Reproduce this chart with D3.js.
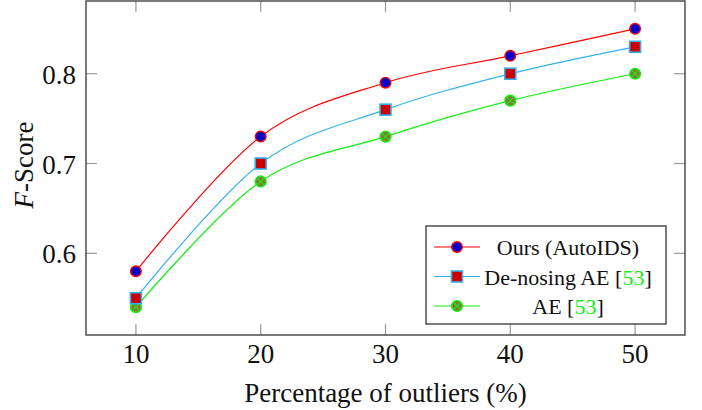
<!DOCTYPE html>
<html>
<head>
<meta charset="utf-8">
<script src="https://cdn.jsdelivr.net/npm/d3@7"></script>
<style>
  body { margin: 0; background: white; }
</style>
</head>
<body>
<div id="chart"></div>
<script>
// Data
const outliers = [10, 20, 30, 40, 50];
const oursScores = [0.58, 0.73, 0.79, 0.82, 0.85];
const denoisingScores = [0.55, 0.70, 0.76, 0.80, 0.83];
const aeScores = [0.54, 0.68, 0.73, 0.77, 0.80];
const yTicks = [0.6, 0.7, 0.8];
const seriesNames = ["Ours (AutoIDS)", "De-nosing AE ", "AE "];

let width = 702, height = 410;
let margin = { top: 1, bottom: 75, left: 86, right: 17 };
const serif = "Times New Roman, Liberation Serif, DejaVu Serif, serif";
const axisFont = 27, legendFont = 22;

let svg = d3.select("#chart")
    .append("svg")
    .attr("width", width)
    .attr("height", height)
    .attr("font-family", serif)
    .style("background", "white");

// pgfplots-style 10% enlarged limits
let xScale = d3.scaleLinear()
    .domain([6, 54])
    .range([margin.left, width - margin.right]);

let yScale = d3.scaleLinear()
    .domain([0.509, 0.881])
    .range([height - margin.bottom, margin.top]);

const x0 = margin.left, x1 = width - margin.right;
const y0 = height - margin.bottom, y1 = margin.top;
const tickLen = 11;

// Ticks (inside, mirrored on all sides)
let ticks = svg.append("g").attr("stroke", "#9a9a9a").attr("stroke-width", 1.2);
outliers.forEach(v => {
    ticks.append("line").attr("x1", xScale(v)).attr("x2", xScale(v)).attr("y1", y0).attr("y2", y0 - tickLen);
    ticks.append("line").attr("x1", xScale(v)).attr("x2", xScale(v)).attr("y1", y1).attr("y2", y1 + tickLen);
});
yTicks.forEach(v => {
    ticks.append("line").attr("x1", x0).attr("x2", x0 + tickLen).attr("y1", yScale(v)).attr("y2", yScale(v));
    ticks.append("line").attr("x1", x1).attr("x2", x1 - tickLen).attr("y1", yScale(v)).attr("y2", yScale(v));
});

// Tick labels
svg.append("g").selectAll("text")
    .data(outliers)
    .enter()
    .append("text")
    .attr("x", d => xScale(d))
    .attr("y", y0 + 28)
    .attr("text-anchor", "middle")
    .attr("font-size", axisFont)
    .attr("fill", "#111")
    .text(d => d);

svg.append("g").selectAll("text")
    .data(yTicks)
    .enter()
    .append("text")
    .attr("x", x0 - 10)
    .attr("y", d => yScale(d) + 10)
    .attr("text-anchor", "end")
    .attr("font-size", axisFont)
    .attr("fill", "#111")
    .text(d => d.toFixed(1));

// Axis labels
svg.append("text")
    .attr("x", (x0 + x1) / 2)
    .attr("y", 402)
    .attr("text-anchor", "middle")
    .attr("font-size", axisFont)
    .attr("fill", "#111")
    .text("Percentage of outliers (%)");

let yLabel = svg.append("text")
    .attr("transform", "rotate(-90)")
    .attr("x", -165)
    .attr("y", 33)
    .attr("text-anchor", "middle")
    .attr("font-size", axisFont)
    .attr("fill", "#111");
yLabel.append("tspan").attr("font-style", "italic").text("F");
yLabel.append("tspan").text("-Score");

// Lines
const series = [
    { values: oursScores, color: "#ff0000", marker: "circle" },
    { values: denoisingScores, color: "#33b1ee", marker: "square" },
    { values: aeScores, color: "#11ee11", marker: "otimes" }
];

let line = d3.line()
    .x(d => xScale(d[0]))
    .y(d => yScale(d[1]))
    .curve(d3.curveCatmullRom.alpha(0));

function drawMarker(g, type, cx, cy) {
    if (type === "circle") {
        g.append("circle").attr("cx", cx).attr("cy", cy).attr("r", 5.3)
            .attr("fill", "#0000cc").attr("stroke", "#ff0000").attr("stroke-width", 1.4);
    } else if (type === "square") {
        g.append("rect").attr("x", cx - 5.5).attr("y", cy - 5.5).attr("width", 11).attr("height", 11)
            .attr("fill", "#cc0000").attr("stroke", "#33b1ee").attr("stroke-width", 1.6);
    } else {
        g.append("circle").attr("cx", cx).attr("cy", cy).attr("r", 5.3)
            .attr("fill", "#9a6a3a").attr("stroke", "#11ee11").attr("stroke-width", 1.6);
        const d = 5.3 * Math.SQRT1_2;
        g.append("line").attr("x1", cx - d).attr("y1", cy - d).attr("x2", cx + d).attr("y2", cy + d)
            .attr("stroke", "#11ee11").attr("stroke-width", 1.2);
        g.append("line").attr("x1", cx - d).attr("y1", cy + d).attr("x2", cx + d).attr("y2", cy - d)
            .attr("stroke", "#11ee11").attr("stroke-width", 1.2);
    }
}

// draw lines bottom-up so Ours is on top
series.slice().reverse().forEach(s => {
    const pts = outliers.map((o, i) => [o, s.values[i]]);
    svg.append("path")
        .datum(pts)
        .attr("fill", "none")
        .attr("stroke", s.color)
        .attr("stroke-width", 1.2)
        .attr("d", line);
    let g = svg.append("g");
    pts.forEach(p => drawMarker(g, s.marker, xScale(p[0]), yScale(p[1])));
});

// Frame
svg.append("rect")
    .attr("x", x0).attr("y", y1)
    .attr("width", x1 - x0).attr("height", y0 - y1)
    .attr("fill", "none")
    .attr("stroke", "#333")
    .attr("stroke-width", 1.3);

// Legend
let legend = svg.append("g");
legend.append("rect")
    .attr("x", 426).attr("y", 226)
    .attr("width", 240).attr("height", 98)
    .attr("fill", "white")
    .attr("stroke", "#333")
    .attr("stroke-width", 1.3);

series.forEach((s, i) => {
    const ly = 247 + i * 29.5;
    legend.append("line")
        .attr("x1", 434).attr("x2", 480)
        .attr("y1", ly).attr("y2", ly)
        .attr("stroke", s.color).attr("stroke-width", 1.2);
    drawMarker(legend, s.marker, 457, ly);
    let t = legend.append("text")
        .attr("x", 568)
        .attr("y", ly + 8)
        .attr("text-anchor", "middle")
        .attr("font-size", legendFont)
        .attr("fill", "#111");
    t.append("tspan").text(seriesNames[i]);
    if (i > 0) {
        t.append("tspan").text("[");
        t.append("tspan").attr("fill", "#11ee11").text("53");
        t.append("tspan").text("]");
    }
});
</script>
</body>
</html>
